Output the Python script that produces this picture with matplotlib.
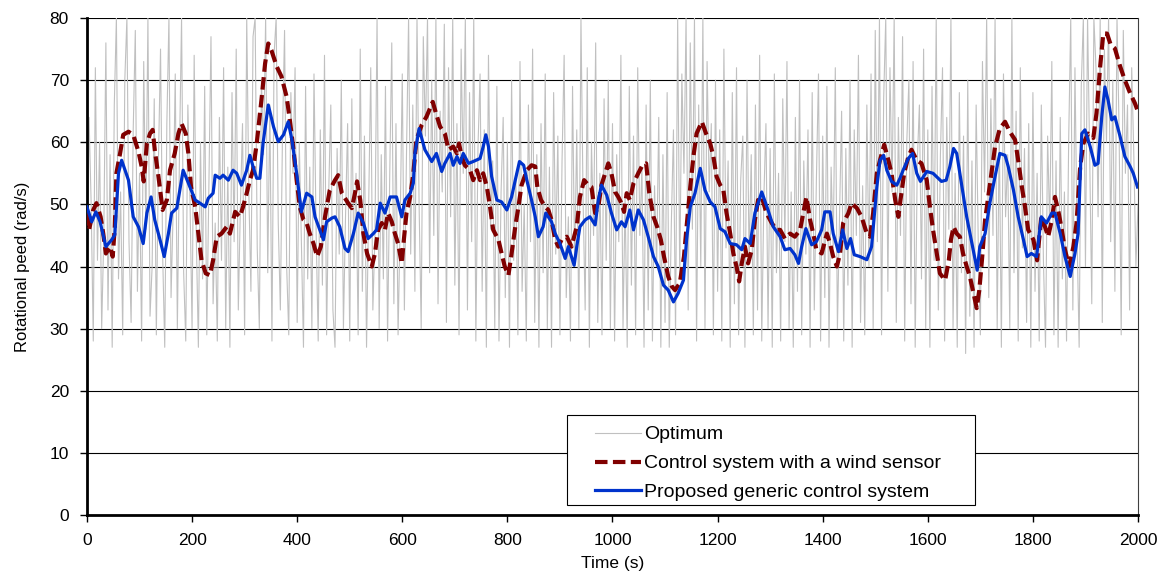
import matplotlib
matplotlib.use("Agg")
import matplotlib.pyplot as plt
from matplotlib.patches import Rectangle
import numpy as np

plt.rcParams['font.family'] = ['Liberation Sans', 'DejaVu Sans']

opt_t = np.arange(0, 2001, 4)
opt_w = [
    35, 64, 50, 28, 72, 41, 60, 30, 45, 76, 33, 58, 27, 66, 80, 38, 52, 29, 70, 80, 44, 31, 62, 78, 36,
    55, 28, 73, 46, 80, 32, 40, 67, 29, 57, 75, 42, 27, 63, 80, 35, 49, 71, 30, 58, 80, 39, 28, 66, 51,
    30, 74, 45, 27, 60, 38, 69, 29, 53, 77, 34, 47, 28, 64, 41, 72, 30, 56, 27, 68, 44, 75, 33, 50, 63,
    29, 80, 52, 36, 77, 80, 43, 30, 70, 58, 80, 39, 66, 28, 74, 80, 47, 33, 61, 78, 40, 29, 68, 55, 72,
    31, 60, 44, 27, 69, 38, 56, 30, 71, 46, 28, 62, 37, 74, 29, 52, 66, 33, 27, 59, 42, 70, 30, 48, 63,
    28, 67, 40, 55, 29, 75, 36, 61, 27, 50, 72, 33, 45, 80, 30, 58, 38, 69, 28, 54, 76, 34, 63, 29, 47,
    71, 33, 58, 80, 42, 66, 36, 80, 50, 30, 77, 61, 80, 39, 70, 45, 80, 34, 65, 52, 79, 31, 72, 48, 80,
    37, 63, 29, 75, 55, 80, 33, 68, 44, 80, 28, 59, 71, 36, 62, 27, 74, 46, 57, 30, 69, 28, 52, 64, 35,
    60, 27, 70, 41, 55, 29, 73, 36, 50, 28, 66, 44, 75, 31, 58, 27, 63, 39, 71, 30, 56, 27, 68, 42, 61,
    29, 57, 74, 35, 48, 28, 69, 40, 62, 30, 80, 51, 33, 72, 27, 60, 45, 76, 31, 55, 29, 67, 41, 70, 30,
    63, 28, 58, 44, 74, 30, 51, 27, 69, 37, 61, 29, 72, 45, 56, 27, 66, 33, 70, 28, 53, 40, 64, 27, 58,
    31, 68, 27, 47, 62, 29, 80, 38, 71, 55, 80, 33, 76, 46, 80, 28, 66, 40, 80, 30, 73, 52, 63, 29, 70,
    36, 62, 28, 75, 43, 57, 27, 68, 34, 72, 29, 54, 61, 27, 70, 41, 58, 29, 66, 33, 74, 28, 51, 63, 30,
    59, 27, 71, 39, 55, 28, 67, 44, 73, 30, 52, 27, 64, 36, 70, 29, 57, 42, 62, 27, 68, 33, 54, 71, 28,
    61, 35, 69, 27, 56, 43, 72, 30, 48, 65, 28, 59, 37, 70, 27, 62, 45, 74, 31, 53, 29, 66, 40, 71, 30,
    78, 44, 80, 29, 67, 80, 36, 72, 52, 80, 31, 64, 45, 77, 28, 60, 70, 34, 73, 27, 57, 66, 38, 75, 30,
    62, 27, 69, 41, 80, 33, 58, 72, 28, 64, 46, 80, 30, 55, 27, 68, 39, 61, 26, 70, 32, 57, 27, 66, 44,
    29, 73, 52, 80, 35, 67, 45, 80, 30, 62, 27, 71, 48, 58, 30, 80, 39, 65, 28, 72, 43, 59, 31, 63, 27,
    68, 36, 55, 28, 66, 41, 27, 61, 46, 73, 29, 57, 27, 64, 38, 52, 28, 60, 80, 33, 72, 45, 27, 69, 80,
    40, 80, 58, 34, 80, 72, 48, 80, 31, 75, 60, 80, 44, 70, 36, 80, 62, 29, 78, 55, 66, 33, 72, 58, 40,
    50,
]

# Control system with a wind sensor
ws_t = [0, 4, 12, 18, 26, 31, 36, 44, 49, 53, 56, 63, 69, 79, 88, 98, 104, 108, 114, 120,
        125, 129, 136, 144, 152, 158, 167, 174, 180, 188, 193, 198, 206, 212, 218, 226, 234, 240, 247, 256,
        266, 272, 282, 291, 297, 304, 310, 316, 323, 332, 339, 345, 351, 361, 370, 380, 386, 393, 399, 405,
        412, 418, 424, 431, 438, 445, 453, 462, 472, 478, 485, 491, 497, 504, 510, 514, 520, 526, 533, 542,
        548, 554, 561, 567, 573, 580, 586, 592, 599, 603, 608, 615, 621, 627, 637, 646, 658, 664, 672, 681,
        688, 697, 704, 708, 713, 719, 729, 735, 742, 748, 754, 761, 767, 773, 783, 789, 795, 802, 808, 815,
        821, 827, 837, 846, 853, 857, 864, 872, 878, 884, 891, 897, 903, 913, 922, 932, 938, 946, 954, 960,
        967, 973, 979, 986, 992, 998, 1005, 1011, 1017, 1022, 1027, 1033, 1040, 1049, 1057, 1064, 1070, 1078, 1085, 1092,
        1098, 1106, 1113, 1119, 1128, 1136, 1141, 1148, 1154, 1160, 1170, 1178, 1186, 1192, 1198, 1205, 1211, 1217, 1224, 1230,
        1236, 1241, 1246, 1252, 1258, 1265, 1271, 1277, 1284, 1293, 1303, 1312, 1319, 1328, 1338, 1347, 1357, 1363, 1369, 1376,
        1382, 1388, 1398, 1408, 1414, 1420, 1427, 1433, 1439, 1449, 1455, 1465, 1474, 1484, 1490, 1496, 1503, 1509, 1517, 1525,
        1531, 1538, 1544, 1548, 1555, 1563, 1569, 1579, 1588, 1598, 1604, 1610, 1617, 1623, 1633, 1640, 1644, 1649, 1655, 1661,
        1667, 1674, 1680, 1687, 1693, 1698, 1703, 1709, 1715, 1722, 1728, 1737, 1747, 1756, 1766, 1772, 1779, 1785, 1791, 1801,
        1808, 1816, 1823, 1829, 1836, 1842, 1848, 1855, 1861, 1869, 1877, 1883, 1890, 1896, 1905, 1915, 1921, 1928, 1934, 1941,
        1948, 1956, 1966, 1975, 1985, 1994, 2000]
ws_w = [48.6, 45.9, 49.1, 50.2, 48.0, 45.3, 42.1, 43.2, 41.6, 46.4, 55.0, 58.2, 61.2, 61.7, 61.2, 58.5, 56.1, 53.7, 59.8, 61.4,
        62.0, 58.8, 54.5, 49.1, 50.7, 55.5, 58.2, 61.4, 63.0, 61.4, 58.2, 52.8, 49.6, 45.3, 41.0, 38.9, 38.6, 41.0, 44.8, 45.3,
        46.4, 45.3, 48.8, 48.0, 49.6, 51.8, 53.9, 55.5, 59.8, 66.8, 72.7, 75.9, 74.8, 72.2, 70.6, 67.3, 63.6, 58.8, 53.9, 49.6,
        47.5, 47.0, 45.3, 43.7, 41.6, 43.2, 48.0, 52.3, 53.9, 54.7, 51.8, 51.0, 50.2, 49.4, 51.8, 53.7, 50.7, 45.3, 42.1, 40.0,
        42.1, 45.9, 47.0, 45.9, 48.6, 47.2, 45.3, 43.7, 40.5, 44.3, 48.6, 51.2, 55.0, 60.4, 62.8, 64.1, 66.5, 64.7, 62.5, 61.4,
        58.8, 59.3, 58.2, 59.8, 57.7, 56.3, 55.5, 53.9, 55.5, 53.9, 55.0, 52.8, 49.6, 45.9, 44.3, 42.1, 40.0, 38.6, 42.1, 46.4,
        49.6, 53.1, 55.5, 56.3, 56.1, 52.8, 50.7, 49.6, 49.1, 47.5, 44.3, 43.2, 44.3, 44.8, 43.2, 46.4, 51.2, 53.9, 53.1, 52.8,
        48.6, 49.6, 53.1, 55.0, 56.6, 55.0, 52.0, 51.2, 50.2, 48.8, 51.8, 50.7, 53.4, 55.0, 56.3, 56.6, 51.8, 48.0, 46.4, 44.3,
        41.6, 38.4, 36.8, 36.2, 37.3, 41.6, 46.4, 52.8, 57.7, 61.4, 63.3, 61.4, 59.8, 57.7, 54.5, 53.1, 52.3, 48.6, 45.3, 42.1,
        40.0, 37.6, 40.5, 43.2, 40.5, 42.7, 47.5, 50.7, 51.2, 48.6, 47.0, 45.9, 45.9, 44.5, 45.3, 44.8, 45.9, 48.6, 51.2, 47.5,
        45.3, 42.7, 42.1, 45.3, 43.7, 41.6, 40.0, 42.1, 47.0, 48.6, 50.2, 49.4, 48.0, 45.3, 44.8, 48.6, 55.0, 57.1, 59.6, 57.1,
        55.0, 50.7, 48.0, 50.7, 55.0, 57.7, 58.8, 57.1, 56.6, 53.9, 49.6, 45.9, 42.1, 38.9, 37.8, 41.0, 44.3, 46.4, 45.3, 44.8,
        42.1, 40.0, 38.4, 35.7, 33.3, 36.2, 41.0, 47.5, 51.2, 55.5, 59.3, 62.2, 63.3, 61.7, 60.4, 57.1, 52.8, 49.6, 45.9, 44.3,
        41.0, 48.0, 46.4, 44.8, 47.5, 51.2, 49.1, 45.9, 42.7, 40.0, 43.2, 47.0, 56.1, 59.8, 61.4, 60.7, 64.7, 72.2, 77.5, 77.5,
        75.7, 75.1, 72.2, 70.0, 67.9, 66.3, 64.9]

# Proposed generic control system
pg_t = [0, 9, 17, 25, 36, 47, 53, 60, 66, 79, 88, 98, 107, 114, 122, 129, 139, 147, 155, 161,
        171, 183, 196, 206, 215, 225, 231, 240, 244, 253, 259, 269, 278, 285, 294, 304, 310, 316, 323, 329,
        335, 345, 355, 364, 374, 383, 390, 399, 408, 418, 428, 434, 443, 450, 456, 466, 472, 481, 491, 497,
        507, 516, 526, 535, 545, 551, 558, 567, 577, 589, 599, 605, 615, 621, 624, 632, 643, 656, 665, 675,
        681, 691, 697, 704, 710, 716, 726, 735, 748, 754, 759, 764, 770, 780, 789, 799, 808, 815, 823, 831,
        837, 846, 853, 859, 868, 873, 884, 891, 900, 910, 916, 927, 932, 938, 948, 957, 967, 973, 979, 989,
        998, 1008, 1017, 1024, 1033, 1040, 1049, 1059, 1068, 1078, 1087, 1097, 1106, 1116, 1125, 1135, 1141, 1148, 1157, 1167,
        1176, 1186, 1195, 1205, 1214, 1224, 1236, 1246, 1252, 1262, 1271, 1284, 1296, 1306, 1319, 1328, 1338, 1347, 1354, 1360,
        1368, 1379, 1388, 1398, 1404, 1414, 1420, 1430, 1438, 1446, 1453, 1460, 1471, 1484, 1493, 1503, 1509, 1516, 1522, 1531,
        1541, 1547, 1553, 1563, 1571, 1579, 1586, 1598, 1610, 1626, 1635, 1642, 1649, 1655, 1665, 1674, 1684, 1694, 1699, 1709,
        1718, 1728, 1737, 1747, 1753, 1763, 1772, 1782, 1789, 1797, 1807, 1816, 1826, 1836, 1842, 1852, 1861, 1871, 1880, 1886,
        1893, 1899, 1909, 1918, 1924, 1931, 1937, 1943, 1950, 1956, 1966, 1975, 1985, 1991, 1999]
pg_w = [49.6, 47.2, 48.8, 47.2, 43.2, 44.3, 45.1, 55.0, 57.1, 53.9, 48.0, 46.4, 43.7, 48.6, 51.2, 47.5, 44.3, 41.6, 45.3, 48.6,
        49.4, 55.5, 52.8, 50.7, 50.2, 49.6, 51.0, 51.8, 54.7, 54.2, 54.7, 53.9, 55.5, 55.0, 53.1, 55.5, 57.9, 56.1, 54.2, 54.2,
        59.8, 66.0, 62.5, 60.1, 61.2, 63.3, 60.4, 55.0, 48.8, 51.8, 51.2, 48.0, 45.9, 44.3, 47.2, 47.8, 48.0, 46.4, 42.9, 42.4,
        45.3, 48.6, 47.0, 44.5, 45.3, 45.9, 50.2, 48.6, 51.2, 51.2, 48.0, 50.7, 51.8, 53.4, 58.2, 62.2, 58.8, 56.9, 58.2, 55.3,
        56.6, 58.2, 56.3, 57.7, 56.6, 58.2, 56.6, 56.9, 57.4, 59.3, 61.2, 59.3, 54.5, 50.7, 50.4, 49.1, 51.2, 53.9, 56.9, 56.3,
        53.9, 50.7, 48.0, 44.8, 46.4, 48.6, 47.2, 45.3, 43.7, 41.3, 43.2, 40.2, 43.2, 46.4, 47.5, 48.0, 46.7, 50.7, 53.1, 51.5,
        48.6, 45.9, 47.2, 46.4, 49.1, 45.9, 49.1, 47.5, 44.8, 41.6, 40.0, 37.0, 36.2, 34.3, 35.7, 37.8, 44.3, 49.6, 51.8, 55.8,
        52.3, 50.4, 49.6, 46.1, 45.6, 43.7, 43.5, 42.7, 44.5, 43.7, 48.6, 52.0, 49.1, 46.4, 44.8, 42.7, 42.9, 41.9, 40.5, 43.2,
        46.1, 43.5, 44.0, 45.9, 48.8, 48.8, 45.3, 42.4, 45.9, 42.9, 44.5, 41.9, 41.6, 41.1, 43.2, 52.8, 57.1, 57.9, 55.5, 53.7,
        53.1, 54.2, 55.5, 57.4, 58.2, 55.0, 53.7, 55.3, 55.0, 53.7, 53.9, 56.1, 59.0, 58.2, 52.8, 48.0, 43.7, 39.4, 43.2, 45.3,
        50.2, 54.5, 58.2, 57.9, 56.1, 52.3, 48.0, 44.3, 41.6, 42.1, 41.6, 48.0, 47.0, 48.6, 48.6, 45.3, 41.6, 38.4, 42.1, 45.3,
        61.4, 62.0, 59.3, 56.3, 56.6, 64.1, 68.9, 66.8, 63.6, 64.1, 60.9, 57.7, 56.1, 55.0, 52.8]

x_ticks = list(range(0, 2001, 200))
y_ticks = list(range(0, 81, 10))

fig = plt.figure(figsize=(11.72, 5.83), dpi=100)
ax = fig.add_axes([0.0742, 0.1166, 0.8968, 0.8525])

ax.plot(opt_t, opt_w, color='#c0c0c0', lw=0.8, label='Optimum', zorder=2)
ax.plot(ws_t, ws_w, color='#800000', lw=3, dashes=(3.0, 1.3),
        label='Control system with a wind sensor', zorder=3)
ax.plot(pg_t, pg_w, color='#0033cc', lw=2.3, label='Proposed generic control system', zorder=4)

ax.set_xlim(0, 2000)
ax.set_ylim(0, 80)
ax.set_xticks(x_ticks)
ax.set_yticks(y_ticks)
ax.tick_params(labelsize=12.5, direction='out', length=5, width=1, pad=8)

ax.grid(axis='y', color='black', lw=0.8, zorder=1)
ax.set_axisbelow(True)
for side in ['left', 'bottom']:
    ax.spines[side].set_linewidth(2)
ax.spines['top'].set_visible(False)
ax.spines['right'].set_linewidth(0.8)
ax.spines['right'].set_color('#404040')

ax.set_xlabel('Time (s)', fontsize=12.5, labelpad=6)
ax.set_ylabel('Rotational peed (rad/s)', fontsize=12, labelpad=14)

# legend box drawn separately so the padding matches the original
ax.add_patch(Rectangle((0.4567, 0.0201), 0.3882, 0.181, transform=ax.transAxes,
                       facecolor='white', edgecolor='black', lw=0.8, zorder=6))
leg = ax.legend(loc='upper left', bbox_to_anchor=(0.4738, 0.199), frameon=False,
                fontsize=14, handlelength=2.4, borderpad=0, labelspacing=0.58,
                handletextpad=0.15)
leg.set_zorder(7)

fig.savefig('out.png', dpi=100)
